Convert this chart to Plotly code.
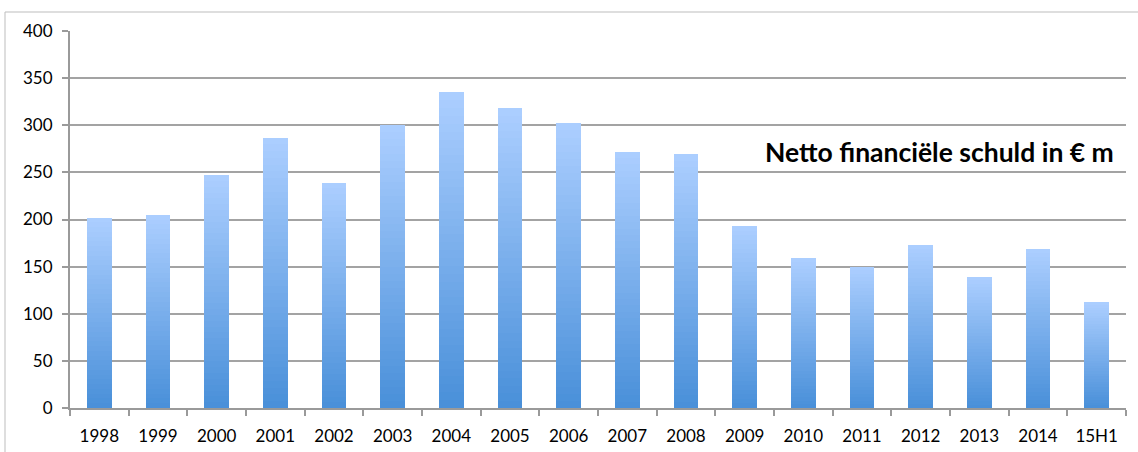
import plotly.graph_objects as go

categories = ["1998", "1999", "2000", "2001", "2002", "2003", "2004", "2005", "2006",
              "2007", "2008", "2009", "2010", "2011", "2012", "2013", "2014", "15H1"]
values = [202, 205, 247, 287, 239, 300, 335, 318, 302,
          272, 269, 193, 159, 150, 173, 139, 169, 112]
y_ticks = [0, 50, 100, 150, 200, 250, 300, 350, 400]
title_text = "Netto financiële schuld in € m"

W, H = 1138, 452
ML, MR, MT, MB = 70, 12, 31, 44

top_rgb = (171, 206, 255)
bot_rgb = (74, 144, 217)
N = 40

fig = go.Figure()
for k in range(N):
    t = k / (N - 1)
    c = tuple(round(bot_rgb[i] + (top_rgb[i] - bot_rgb[i]) * t) for i in range(3))
    fig.add_trace(go.Bar(
        x=categories,
        y=[v / N for v in values],
        marker=dict(color=f"rgb{c}", line=dict(width=0)),
        showlegend=False,
        hoverinfo="skip",
    ))

plot_w = W - ML - MR
plot_h = H - MT - MB

fig.add_shape(type="rect", xref="paper", yref="paper",
              x0=(5 - ML) / plot_w, x1=1.1,
              y0=-(MB + 20) / plot_h, y1=(H - MB - 12) / plot_h,
              line=dict(color="#bdbdbd", width=1), layer="below")

fig.add_annotation(text=f"<b>{title_text}</b>", xref="paper", yref="paper",
                   x=(1116 - ML) / plot_w, y=(H - MB - 152) / plot_h,
                   xanchor="right", yanchor="middle", showarrow=False,
                   font=dict(family="Lato", size=26.5, color="black"))

fig.update_layout(
    width=W, height=H,
    margin=dict(l=ML, r=MR, t=MT, b=MB, autoexpand=False),
    barmode="stack", bargap=0.58,
    plot_bgcolor="white", paper_bgcolor="white",
    font=dict(family="Lato", size=17, color="black"),
)
fig.update_xaxes(
    type="category", tickson="boundaries", ticks="outside", ticklen=6,
    tickcolor="#9a9a9a", tickwidth=2, showgrid=False,
    showline=True, linecolor="#9a9a9a", linewidth=2, automargin=False,
    tickfont=dict(family="Lato", size=17), ticklabelstandoff=12,
)
fig.update_yaxes(
    range=[0, 400], tickvals=y_ticks, ticks="outside", ticklen=6,
    tickcolor="#9a9a9a", tickwidth=2, automargin=False,
    showgrid=True, gridcolor="#a3a3a3", gridwidth=2,
    showline=True, linecolor="#9a9a9a", linewidth=2,
    zeroline=False, tickfont=dict(family="Lato", size=17), ticklabelstandoff=6,
)

fig.write_html("out.html")
